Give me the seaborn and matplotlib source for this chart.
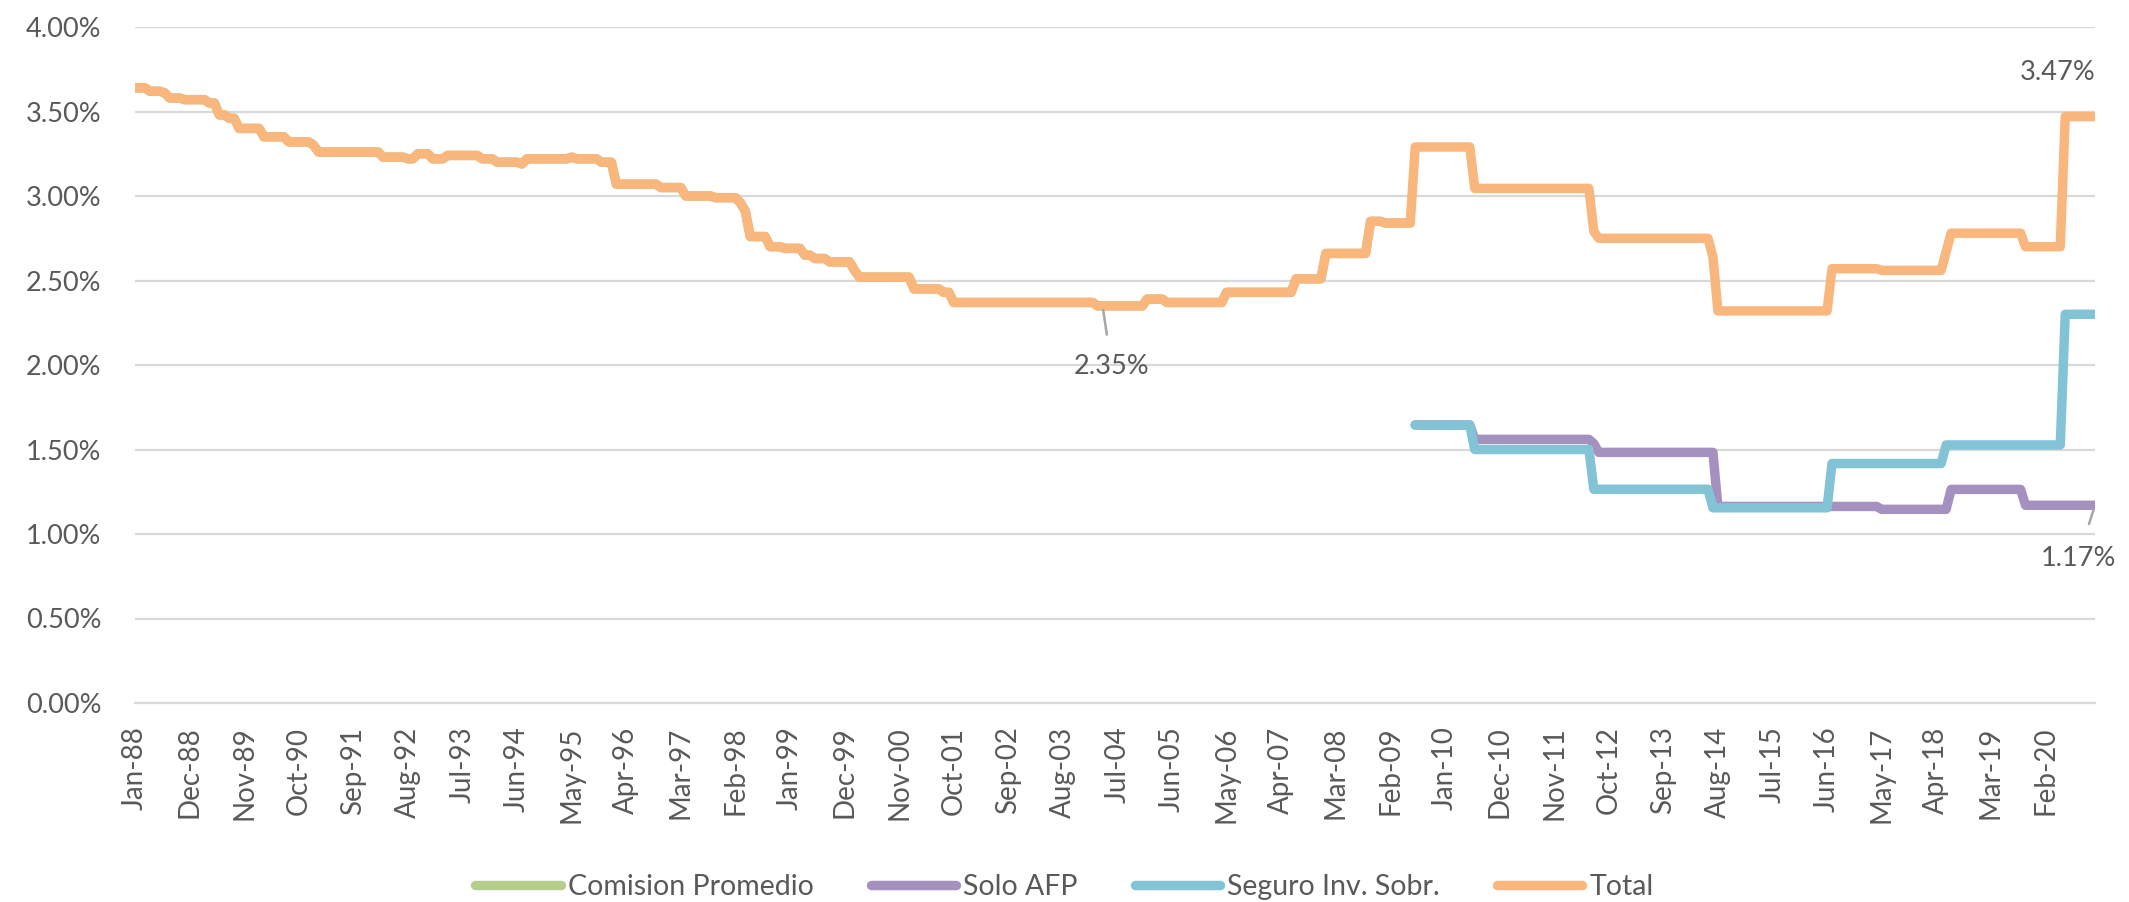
import numpy as np
import pandas as pd
import matplotlib
matplotlib.use("Agg")
import matplotlib.pyplot as plt
from matplotlib.lines import Line2D
import seaborn as sns

# ---------------- data (monthly, Jan-88 .. Dec-20), run-length encoded ----------------
START_YEAR = 1988
N_MONTHS = 396

# Total commission (%): level and number of months it lasts
TOTAL_LEVELS = [3.64, 3.62, 3.61, 3.58, 3.57, 3.55, 3.48, 3.46, 3.40, 3.35, 3.32, 3.30,
                3.26, 3.23, 3.22, 3.25, 3.22, 3.24, 3.22, 3.20, 3.19, 3.22, 3.23, 3.22,
                3.20, 3.07, 3.05, 3.00, 2.99, 2.96, 2.91, 2.76, 2.70, 2.69, 2.65, 2.63,
                2.61, 2.56, 2.52, 2.45, 2.43, 2.37, 2.35, 2.39, 2.37, 2.43, 2.51, 2.66,
                2.85, 2.84, 3.29, 3.045, 2.79, 2.75, 2.64, 2.32, 2.57, 2.56, 2.67, 2.78,
                2.70, 3.47]
TOTAL_RUNS = [3, 3, 1, 3, 5, 2, 2, 2, 5, 5, 5, 1,
              13, 5, 2, 3, 3, 7, 3, 5, 1, 9, 1, 5,
              3, 9, 5, 6, 5, 1, 1, 4, 3, 4, 2, 3,
              5, 1, 11, 6, 2, 29, 10, 4, 12, 14, 6, 9,
              3, 6, 12, 24, 1, 23, 1, 23, 10, 13, 1, 15,
              8, 7]

# Split series start in month index 258 (Jul-09)
SPLIT_START = 258
SOLO_AFP_LEVELS = [1.645, 1.56, 1.535, 1.483, 1.163, 1.146, 1.264, 1.17]
SOLO_AFP_RUNS = [12, 24, 1, 24, 33, 14, 15, 15]
SEGURO_LEVELS = [1.645, 1.50, 1.265, 1.155, 1.417, 1.527, 2.30]
SEGURO_RUNS = [12, 24, 24, 24, 23, 24, 7]

SERIES_NAMES = ["Comision Promedio", "Solo AFP", "Seguro Inv. Sobr.", "Total"]
COLORS = ["#b5ce8d", "#a591bf", "#82c4d6", "#f9b67d"]

MONTH_ABBR = ["Jan", "Feb", "Mar", "Apr", "May", "Jun",
              "Jul", "Aug", "Sep", "Oct", "Nov", "Dec"]
TICK_STEP = 11

# ---------------- build frames ----------------
months = np.arange(N_MONTHS)
total = np.repeat(TOTAL_LEVELS, TOTAL_RUNS)
solo = np.repeat(SOLO_AFP_LEVELS, SOLO_AFP_RUNS)
seguro = np.repeat(SEGURO_LEVELS, SEGURO_RUNS)

frames = [
    pd.DataFrame({"m": months[:SPLIT_START], "v": total[:SPLIT_START], "serie": SERIES_NAMES[0]}),
    pd.DataFrame({"m": months[SPLIT_START:], "v": solo, "serie": SERIES_NAMES[1]}),
    pd.DataFrame({"m": months[SPLIT_START:], "v": seguro, "serie": SERIES_NAMES[2]}),
    pd.DataFrame({"m": months, "v": total, "serie": SERIES_NAMES[3]}),
]
df = pd.concat(frames, ignore_index=True)

# ---------------- style ----------------
sns.set_style("white")
plt.rcParams["font.family"] = ["Lato", "DejaVu Sans"]
TXT = "#595959"
GRID = "#d9d9d9"

W, H = 2129, 902
fig = plt.figure(figsize=(W / 100, H / 100), dpi=100)
ax = fig.add_axes([135 / W, 1 - 703 / H, (2095 - 135) / W, (703 - 27) / H])

LW = 6.8
for name, color in zip(SERIES_NAMES, COLORS):
    sns.lineplot(data=df[df["serie"] == name], x="m", y="v", color=color, lw=LW,
                 estimator=None, sort=True, ax=ax, legend=False,
                 solid_capstyle="round", solid_joinstyle="round", zorder=3)

ax.set_xlim(0, N_MONTHS - 1)
ax.set_ylim(0, 4.0)
ax.set_xlabel("")
ax.set_ylabel("")

yt = np.arange(0, 4.01, 0.5)
ax.set_yticks(yt)
ax.set_yticklabels([f"{v:.2f}%" for v in yt])
ax.yaxis.grid(True, color=GRID, lw=1.6, zorder=0)
ax.xaxis.grid(False)

xt = np.arange(0, N_MONTHS, TICK_STEP)
ax.set_xticks(xt)
ax.set_xticklabels([f"{MONTH_ABBR[i % 12]}-{(START_YEAR + i // 12) % 100:02d}" for i in xt],
                   rotation=90)

for s in ["left", "right", "top"]:
    ax.spines[s].set_visible(False)
ax.spines["bottom"].set_color(GRID)
ax.spines["bottom"].set_linewidth(1.6)
ax.tick_params(axis="x", length=8, width=1.6, color=GRID, direction="out",
               pad=9, labelsize=20, labelcolor=TXT)
ax.tick_params(axis="y", length=0, pad=24, labelsize=19.5, labelcolor=TXT)
ax.set_axisbelow(True)

# ---------------- data labels ----------------
i_min = int(np.argmin(total[:SPLIT_START]))
ax.annotate(f"{total[i_min]:.2f}%", xy=(i_min + 1, total[i_min]),
            xytext=(9, -61), textcoords="offset pixels", ha="center", va="center",
            fontsize=19.5, color=TXT,
            arrowprops=dict(arrowstyle="-", color="#a6a6a6", lw=1.8,
                            shrinkA=12, shrinkB=3))
ax.annotate(f"{total[-1]:.2f}%", xy=(N_MONTHS - 1, total[-1]),
            xytext=(-37, 44), textcoords="offset pixels", ha="center", va="center",
            fontsize=19.5, color=TXT)
ax.annotate(f"{solo[-1]:.2f}%", xy=(N_MONTHS - 1, solo[-1]),
            xytext=(-17, -53), textcoords="offset pixels", ha="center", va="center",
            fontsize=19.5, color=TXT,
            arrowprops=dict(arrowstyle="-", color="#a6a6a6", lw=1.8,
                            shrinkA=14, shrinkB=3))

# ---------------- legend ----------------
handles = [Line2D([0], [0], color=c, lw=LW, solid_capstyle="round") for c in COLORS]
leg = fig.legend(handles, SERIES_NAMES, loc="center", bbox_to_anchor=(0.5, 1 - 887 / H),
                 ncol=4, frameon=False, handlelength=3.0, handletextpad=0.25,
                 columnspacing=2.0, fontsize=20.5)
for t in leg.get_texts():
    t.set_color(TXT)

fig.savefig("out.png", dpi=100, facecolor="white")
